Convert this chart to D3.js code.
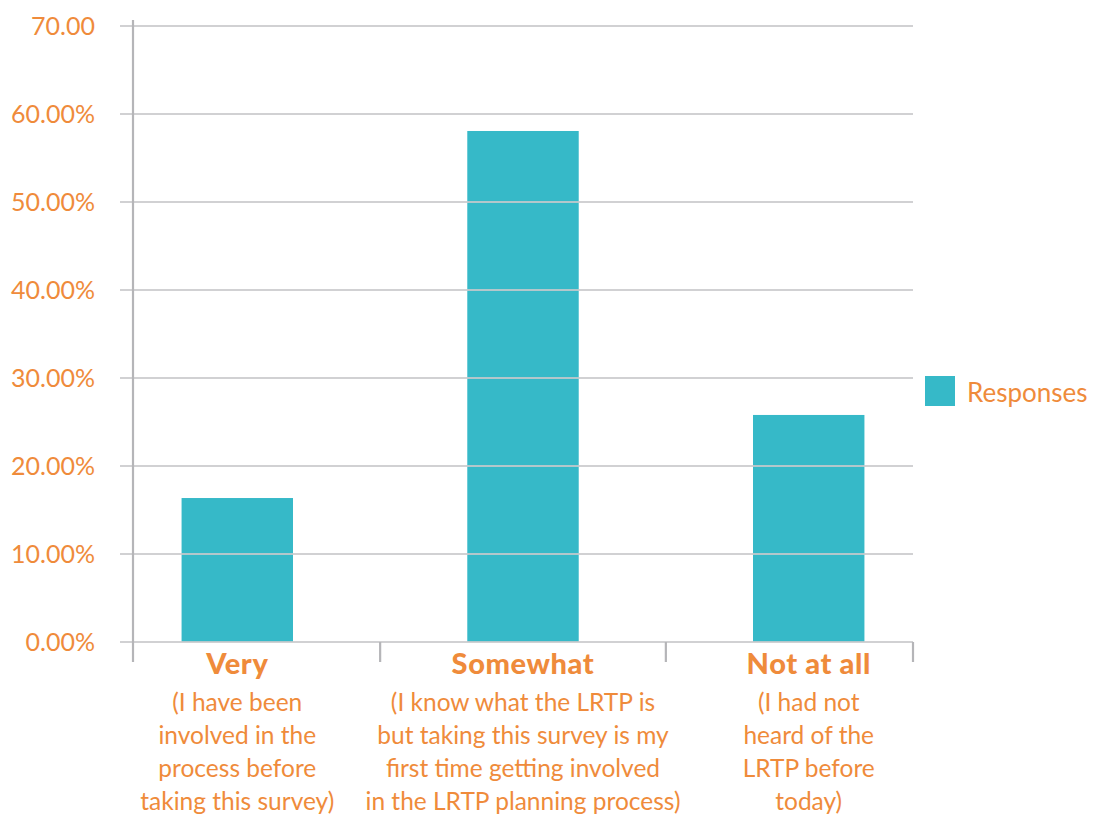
<!DOCTYPE html>
<html><head><meta charset="utf-8">
<script src="https://cdn.jsdelivr.net/npm/d3@7"></script>
<style>body{margin:0;background:#fff}svg{display:block}</style>
</head><body>
<svg id="c" width="1094" height="819"></svg>
<script>
const categories = ["Very", "Somewhat", "Not at all"];
const subLabels = [
  ["(I have been", "involved in the", "process before", "taking this survey)"],
  ["(I know what the LRTP is", "but taking this survey is my", "first time getting involved", "in the LRTP planning process)"],
  ["(I had not", "heard of the", "LRTP before", "today)"]
];
const values = [16.36, 58.07, 25.8];
const yTicks = [0, 10, 20, 30, 40, 50, 60, 70];
const yTickLabels = ["0.00%", "10.00%", "20.00%", "30.00%", "40.00%", "50.00%", "60.00%", "70.00"];
const seriesName = "Responses";

const orange = "#EF8B3B", teal = "#36B9C8", grid = "#c9c9cb";
const font = "Lato, 'Open Sans', sans-serif";
const svg = d3.select("#c");
const L = 133, R = 913, T = 26, B = 642;
const x = d3.scaleBand().domain(categories).range([L, R]).paddingInner(0.61).paddingOuter(0.17);
const y = d3.scaleLinear().domain([0, 70]).range([B, T]);

// bars
svg.selectAll("rect.bar").data(values).join("rect")
  .attr("x", (d, i) => x(categories[i])).attr("width", x.bandwidth())
  .attr("y", d => y(d)).attr("height", d => y(0) - y(d)).attr("fill", teal);

// gridlines (drawn on top)
svg.selectAll("line.g").data(yTicks).join("line")
  .attr("x1", L - 13).attr("x2", R).attr("y1", d => y(d)).attr("y2", d => y(d))
  .attr("stroke", grid).attr("stroke-width", 2.2).attr("stroke-opacity", 0.85);
// y axis line
svg.append("line").attr("x1", L).attr("x2", L).attr("y1", T - 6).attr("y2", B + 20)
  .attr("stroke", "#b5b5b8").attr("stroke-width", 2.2);
// category boundary ticks
const bounds = [];
for (let i = 1; i < categories.length; i++) {
  const a = x(categories[i - 1]) + x.bandwidth(), b = x(categories[i]);
  bounds.push((a + b) / 2);
}
bounds.push(R);
svg.selectAll("line.t").data(bounds).join("line")
  .attr("x1", d => d).attr("x2", d => d).attr("y1", B).attr("y2", B + 20)
  .attr("stroke", "#b5b5b8").attr("stroke-width", 2.2);

// y tick labels
svg.selectAll("text.yl").data(yTicks).join("text")
  .attr("x", 95).attr("y", d => y(d) + 9).attr("text-anchor", "end")
  .attr("font-family", font).attr("font-size", 25).attr("fill", orange)
  .text((d, i) => yTickLabels[i]);

// category labels
categories.forEach((c, i) => {
  const cx = x(c) + x.bandwidth() / 2;
  svg.append("text").attr("x", cx).attr("y", 674).attr("text-anchor", "middle")
    .attr("font-family", font).attr("font-weight", 900).attr("font-size", 29)
    .attr("letter-spacing", 0.6).attr("fill", orange).text(c);
  subLabels[i].forEach((s, j) => {
    svg.append("text").attr("x", cx).attr("y", 711 + j * 33).attr("text-anchor", "middle")
      .attr("font-family", font).attr("font-size", 24.5).attr("fill", orange).text(s);
  });
});

// legend
svg.append("rect").attr("x", 925).attr("y", 376).attr("width", 30).attr("height", 30).attr("fill", teal);
svg.append("text").attr("x", 967).attr("y", 402).attr("font-family", font).attr("font-size", 26)
  .attr("fill", orange).text(seriesName);
</script>
</body></html>
